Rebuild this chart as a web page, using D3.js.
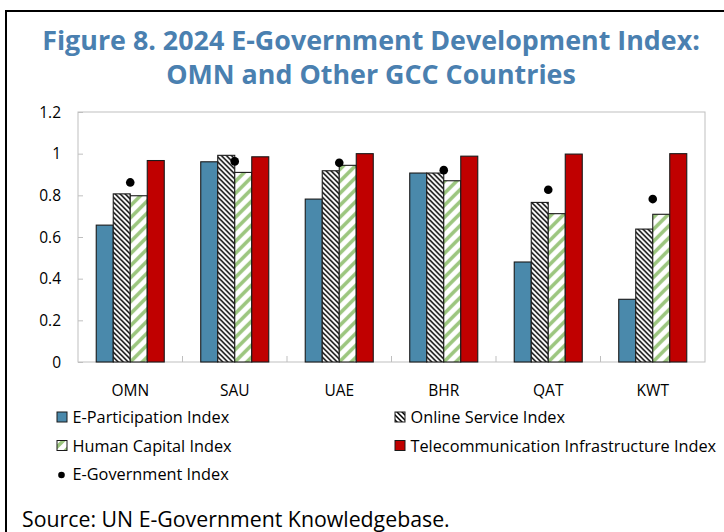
<!DOCTYPE html>
<html>
<head>
<meta charset="utf-8">
<script src="https://cdn.jsdelivr.net/npm/d3@7"></script>
<style>
  html, body { margin: 0; padding: 0; background: #fff; }
  svg { display: block; }
  text { font-family: "Open Sans", "Noto Sans", sans-serif; }
</style>
</head>
<body>
<div id="chart"></div>
<script>
// GCC e-government indices, 2024
const countries = ["OMN", "SAU", "UAE", "BHR", "QAT", "KWT"];
const seriesNames = ["E-Participation Index", "Online Service Index", "Human Capital Index", "Telecommunication Infrastructure Index"];
const eParticipation = [0.657, 0.961, 0.782, 0.907, 0.480, 0.301];
const onlineService  = [0.807, 0.992, 0.918, 0.907, 0.766, 0.638];
const humanCapital   = [0.798, 0.910, 0.944, 0.870, 0.712, 0.709];
const telecomInfra   = [0.967, 0.985, 1.000, 0.988, 0.998, 1.000];
const eGovernment    = [0.862, 0.963, 0.956, 0.921, 0.827, 0.782];
const yTicks = [0, 0.2, 0.4, 0.6, 0.8, 1, 1.2];
const dotName = "E-Government Index";

const W = 724, H = 532;
const plot = { left: 78, right: 705, top: 112, bottom: 362 };

const svg = d3.select("#chart").append("svg")
  .attr("width", W).attr("height", H);

svg.append("rect").attr("width", W).attr("height", H).attr("fill", "#fff");

// fills for the four bar series
const defs = svg.append("defs");
const hatch = defs.append("pattern").attr("id", "hatch")
  .attr("patternUnits", "userSpaceOnUse").attr("width", 5).attr("height", 5);
hatch.append("rect").attr("width", 5).attr("height", 5).attr("fill", "#fff");
hatch.append("path").attr("d", "M-1,-1 L6,6 M-1,4 L1,6 M4,-1 L6,1")
  .attr("stroke", "#000").attr("stroke-width", 1.5);

const stripe = defs.append("pattern").attr("id", "stripe")
  .attr("patternUnits", "userSpaceOnUse").attr("width", 12).attr("height", 12);
stripe.append("rect").attr("width", 12).attr("height", 12).attr("fill", "#fff");
stripe.append("path").attr("d", "M-2,14 L14,-2 M-4,4 L4,-4 M8,16 L16,8")
  .attr("stroke", "#9cc67f").attr("stroke-width", 3.6);

const fills = ["#4a89ab", "url(#hatch)", "url(#stripe)", "#c00000"];
const values = [eParticipation, onlineService, humanCapital, telecomInfra];

// frame lines
svg.append("line").attr("x1", 6).attr("x2", W).attr("y1", 11).attr("y2", 11)
  .attr("stroke", "#000").attr("stroke-width", 2);
svg.append("line").attr("x1", 6).attr("x2", 6).attr("y1", 10).attr("y2", H)
  .attr("stroke", "#000").attr("stroke-width", 2);

// title, sized to the intended line width
const titleColor = "#4a80b0";
const t1 = svg.append("text").attr("x", 371).attr("y", 50)
  .attr("text-anchor", "middle").attr("fill", titleColor)
  .attr("font-weight", 700).attr("font-size", 23)
  .text("Figure 8. 2024 E-Government Development Index:");
const w1 = t1.node().getComputedTextLength();
const titleSize = 23 * 658 / w1;
t1.attr("font-size", titleSize);
svg.append("text").attr("x", 371).attr("y", 84)
  .attr("text-anchor", "middle").attr("fill", titleColor)
  .attr("font-weight", 700).attr("font-size", titleSize)
  .text("OMN and Other GCC Countries");

// scales
const y = d3.scaleLinear().domain([0, 1.2]).range([plot.bottom, plot.top]);
const x0 = d3.scaleBand().domain(countries).range([plot.left, plot.right])
  .paddingInner(0.349).paddingOuter(0.1745);
const x1 = d3.scaleBand().domain(seriesNames).range([0, x0.bandwidth()]);

// plot area border
svg.append("rect").attr("x", plot.left).attr("y", plot.top)
  .attr("width", plot.right - plot.left).attr("height", plot.bottom - plot.top)
  .attr("fill", "none").attr("stroke", "#bfbfbf").attr("stroke-width", 1);

// y axis (inner ticks)
const yAxis = svg.append("g").attr("transform", `translate(${plot.left},0)`)
  .call(d3.axisRight(y).tickValues(yTicks).tickSize(5).tickFormat(""));
yAxis.select(".domain").remove();
yAxis.selectAll("line").attr("stroke", "#bfbfbf");
svg.append("g").selectAll("text").data(yTicks).join("text")
  .attr("x", 61).attr("y", d => y(d)).attr("dy", "0.36em")
  .attr("text-anchor", "end").attr("font-size", 15.5).attr("fill", "#000")
  .text(d => d3.format("")(d));

// category separators on the x axis
const seps = countries.slice(1).map(c => x0(c) - x0.step() * x0.paddingInner() / 2);
svg.append("g").selectAll("line").data(seps).join("line")
  .attr("x1", d => d).attr("x2", d => d)
  .attr("y1", plot.bottom).attr("y2", plot.bottom - 6)
  .attr("stroke", "#bfbfbf");

// x labels
svg.append("g").selectAll("text").data(countries).join("text")
  .attr("x", d => x0(d) + x0.bandwidth() / 2).attr("y", 396)
  .attr("text-anchor", "middle").attr("font-size", 15.5).attr("fill", "#000")
  .text(d => d);

// bars
const groups = svg.append("g").selectAll("g").data(countries).join("g")
  .attr("transform", d => `translate(${x0(d)},0)`);
groups.selectAll("rect")
  .data((c, ci) => seriesNames.map((s, si) => ({ s, si, v: values[si][ci] })))
  .join("rect")
  .attr("x", d => x1(d.s)).attr("width", x1.bandwidth())
  .attr("y", d => y(d.v)).attr("height", d => y(0) - y(d.v))
  .attr("fill", d => fills[d.si])
  .attr("stroke", "#1a1a1a").attr("stroke-width", 1.1);

// E-Government Index dots
svg.append("g").selectAll("circle").data(countries).join("circle")
  .attr("cx", d => x0(d) + x0.bandwidth() / 2)
  .attr("cy", (d, i) => y(eGovernment[i]))
  .attr("r", 4.3).attr("fill", "#000");

// legend
const legendItems = [
  { name: seriesNames[0], fill: fills[0], x: 57, y: 423 },
  { name: seriesNames[1], fill: fills[1], x: 395, y: 423 },
  { name: seriesNames[2], fill: fills[2], x: 57, y: 451.5 },
  { name: seriesNames[3], fill: fills[3], x: 395, y: 451.5 }
];
const lg = svg.append("g");
legendItems.forEach(it => {
  lg.append("rect").attr("x", it.x).attr("y", it.y - 11).attr("width", 10).attr("height", 10)
    .attr("fill", it.fill).attr("stroke", "#1a1a1a").attr("stroke-width", 1);
  lg.append("text").attr("x", it.x + 15.5).attr("y", it.y)
    .attr("font-size", 16.3).attr("fill", "#000").text(it.name);
});
lg.append("circle").attr("cx", 61.5).attr("cy", 475).attr("r", 3.3).attr("fill", "#000");
lg.append("text").attr("x", 72.5).attr("y", 480)
  .attr("font-size", 16.3).attr("fill", "#000").text(dotName);

// source note
svg.append("text").attr("x", 22).attr("y", 527)
  .attr("font-size", 21.3).attr("fill", "#000")
  .text("Source: UN E-Government Knowledgebase.");
</script>
</body>
</html>
